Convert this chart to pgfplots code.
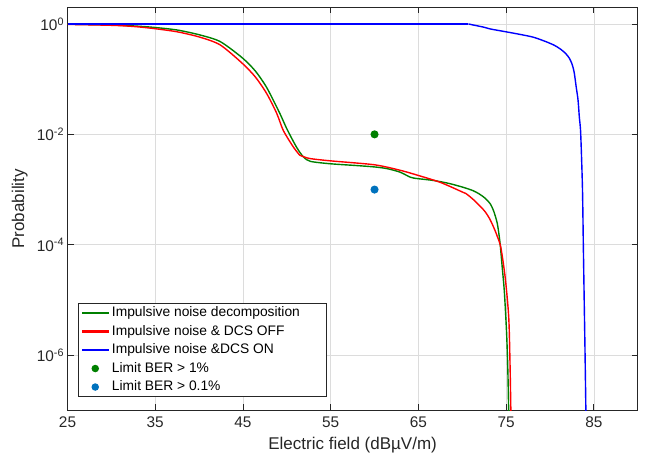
\documentclass[border=0pt]{standalone}
\usepackage{fontspec}
\setmainfont{Liberation Sans}
\usepackage{pgfplots}
\pgfplotsset{compat=1.18}
\definecolor{axgray}{RGB}{38,38,38}
\definecolor{gridc}{RGB}{220,220,220}
\definecolor{mgreen}{RGB}{0,128,0}
\definecolor{mred}{RGB}{255,0,0}
\definecolor{mblueline}{RGB}{0,0,255}
\definecolor{mblue}{RGB}{0,114,189}

\begin{document}
\begin{tikzpicture}
\begin{axis}[
  scale only axis, width=570bp, height=403bp,
  ymode=log, xmin=25, xmax=90, ymin=1e-7, ymax=2,
  xtick={25,35,...,85}, ytick={1e-6,1e-4,1e-2,1},
  yticklabels={10\textsuperscript{-6},10\textsuperscript{-4},10\textsuperscript{-2},10\textsuperscript{0}},
  xminorticks=false, yminorticks=false,
  /pgf/number format/assume math mode=true,
  tick label style={font=\fontsize{15.4bp}{18bp}\selectfont, text=axgray},
  x tick label style={yshift=-3bp},
  label style={font=\fontsize{17bp}{20bp}\selectfont, text=axgray},
  xlabel={Electric field (dBµV/m)},
  ylabel={Probability},
  xlabel style={at={(axis description cs:0.5,-0.087)}, anchor=center},
  ylabel style={at={(axis description cs:-0.084,0.5)}, anchor=center},
  grid=major, major grid style={gridc, line width=0.6bp},
  axis line style={axgray, line width=0.8bp},
  tick style={axgray, line width=0.8bp}, major tick length=6bp, tick align=inside,
  every axis plot/.append style={line width=1.4bp},
  legend cell align=left,
  legend style={at={(axis description cs:0.019,0.034)}, anchor=south west,
    draw=axgray, fill=white, inner sep=3bp,
    font=\fontsize{13.8bp}{16bp}\selectfont, row sep=5.5bp,
    nodes={inner xsep=3bp, inner ysep=0bp, text height=10bp, text depth=3bp}},
]
% impulsive noise decomposition
\addplot[mgreen, smooth, tension=0.45, forget plot] coordinates {(25,0.99) (30,0.955) (32.5,0.92) (34.7,0.87) (37.5,0.776) (40.1,0.631) (42.4,0.479) (44.9,0.245) (46.4,0.141) (47.7,0.0708) (49.2,0.024) (50.0,0.0126) (51.1,0.00589) (51.9,0.00389) (52.7,0.00324) (55,0.00293) (58,0.00272) (60,0.00257) (61.4,0.0024) (62.9,0.00207) (64.1,0.00167) (64.9,0.00158) (66.75,0.00146) (68.5,0.00129) (70.1,0.0011) (71.2,0.00096) (71.9,0.00084) (72.6,0.0007) (73.2,0.00055) (73.6,0.0004) (74.0,0.00024) (74.3,0.00011) (74.55,4e-5) (74.8,1.4e-5) (75.06,2.4e-6) (75.2,5e-7) (75.3,8e-8)};
% DCS off
\addplot[mred, smooth, tension=0.45, forget plot] coordinates {(25,0.98) (30,0.944) (32.5,0.9) (34.7,0.83) (37.5,0.72) (40.1,0.575) (42.4,0.417) (44.9,0.195) (46.4,0.11) (47.7,0.055) (48.85,0.024) (49.6,0.01175) (50.75,0.00589) (51.5,0.00417) (52.0,0.00389) (52.7,0.00363) (55,0.00331) (60,0.00281) (62.9,0.00224) (64.9,0.00182) (67.5,0.00135) (70.1,0.00089) (70.5,0.00083) (71.4,0.00063) (72.5,0.000417) (73.1,0.0003) (73.6,0.000204) (74.0,0.000141) (74.4,8.9e-5) (74.9,2.5e-5) (75.3,4.8e-6) (75.45,6.3e-7) (75.55,8e-8)};
% DCS on
\addplot[mblueline, forget plot] coordinates {(25,1) (70.7,1)};
\addplot[mblueline, smooth, tension=0.45, forget plot] coordinates {(70.7,1) (71.2,0.96) (71.7,0.925) (72.5,0.87) (73.2,0.81) (74.9,0.724) (76.5,0.65) (78.1,0.575) (79.5,0.48) (80.5,0.41) (81.2,0.35) (81.8,0.29) (82.2,0.24) (82.5,0.19) (82.75,0.135) (83.0,0.07) (83.2,0.0417) (83.35,0.02) (83.5,0.0105) (83.7,0.0011) (83.8,1.02e-4) (83.9,1e-5) (84.0,1.02e-6) (84.1,8e-8)};
\addplot[only marks, mark=*, mark size=3.3bp, color=mgreen, forget plot] coordinates {(60,1e-2)};
\addplot[only marks, mark=*, mark size=3.3bp, color=mblue, forget plot] coordinates {(60,1e-3)};
\addlegendimage{legend image code/.code={\fill[mgreen] (0bp,-0.55bp) rectangle (26bp,0.55bp);}}
\addlegendentry{Impulsive noise decomposition\hspace*{20bp}}
\addlegendimage{legend image code/.code={\fill[mred] (0bp,-0.55bp) rectangle (26bp,0.55bp);}}
\addlegendentry{Impulsive noise \& DCS OFF}
\addlegendimage{legend image code/.code={\fill[mblueline] (0bp,-0.55bp) rectangle (26bp,0.55bp);}}
\addlegendentry{Impulsive noise \&DCS ON}
\addlegendimage{legend image code/.code={\fill[mgreen] (13bp,0bp) circle (3bp);}}
\addlegendentry{Limit BER > 1\%}
\addlegendimage{legend image code/.code={\fill[mblue] (13bp,0bp) circle (3bp);}}
\addlegendentry{Limit BER > 0.1\%}
\end{axis}
\path (current axis.south west) ++(-67.5bp,-46.7bp);
\path (current axis.north east) ++(7.3bp,7.3bp);
\end{tikzpicture}
\end{document}
